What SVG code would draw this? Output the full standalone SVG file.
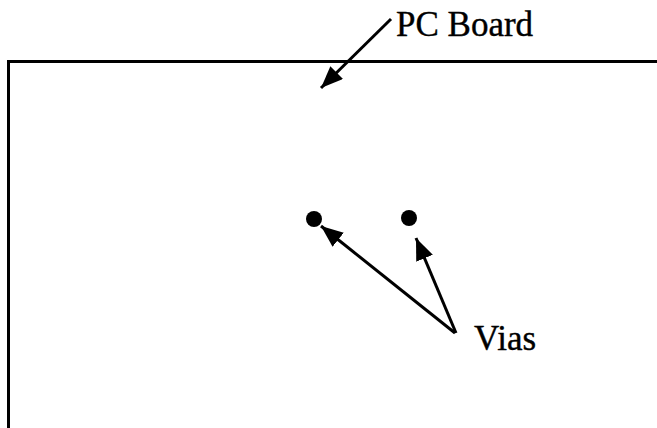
<svg xmlns="http://www.w3.org/2000/svg" width="657" height="428" viewBox="0 0 657 428">
<style>
.lbl{font-family:"Liberation Serif","Times New Roman",serif;font-size:35px;fill:#000;stroke:#000;stroke-width:0.4}
.ln{stroke:#000;stroke-width:3;fill:none}
</style>
<defs>
<marker id="ah" markerUnits="userSpaceOnUse" markerWidth="24" markerHeight="20" refX="22" refY="9" orient="auto">
<path d="M0,0 L22,9 L0,18 Z" fill="#000"/>
</marker>
</defs>
<rect width="657" height="428" fill="#fff"/>
<g id="board">
<path class="ln" d="M8.5,428 V61.5 H657"/>
</g>
<g id="via1"><circle cx="314" cy="219" r="8" fill="#000"/></g>
<g id="via2"><circle cx="409" cy="218" r="8" fill="#000"/></g>
<g id="label-pcboard"><text class="lbl" x="396" y="36">PC Board</text></g>
<g id="label-vias"><text class="lbl" x="474" y="350">Vias</text></g>
<g id="connectors">
<line class="ln" x1="391" y1="19" x2="321" y2="88" marker-end="url(#ah)"/>
<line class="ln" x1="455" y1="333" x2="321" y2="226" marker-end="url(#ah)"/>
<line class="ln" x1="456" y1="333" x2="416" y2="238" marker-end="url(#ah)"/>
</g>
</svg>
